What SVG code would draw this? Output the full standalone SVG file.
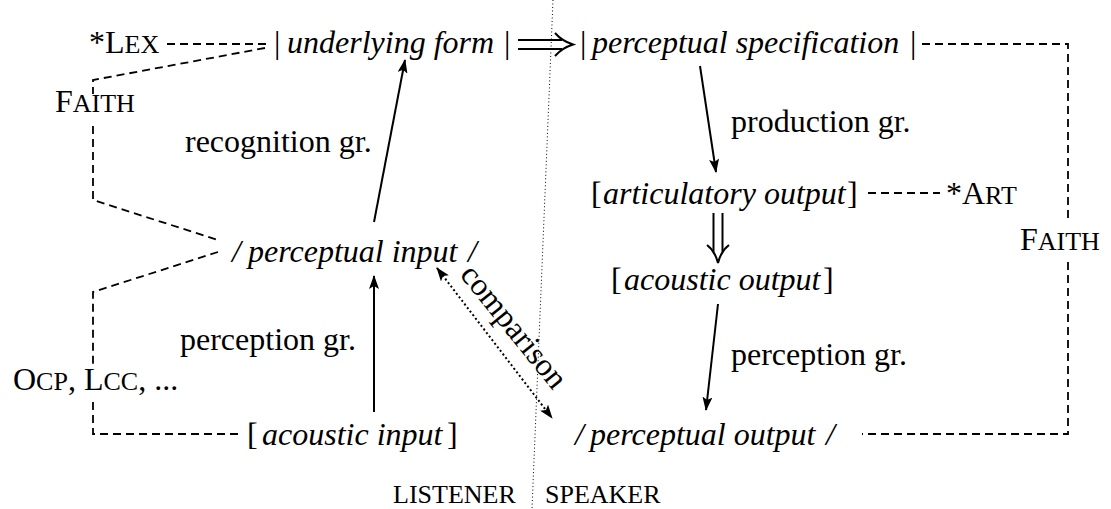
<svg xmlns="http://www.w3.org/2000/svg" width="1111" height="509" viewBox="0 0 1111 509">
  <defs>
    <style>
      text { font-family: "Liberation Serif", "Times New Roman", serif; font-size: 32px; fill: #000; }
      .it { font-style: italic; }
      .sc { font-size: 26px; }
      .dash { fill: none; stroke: #000; stroke-width: 1.8; stroke-dasharray: 8 5; }
      .solid { fill: none; stroke: #000; stroke-width: 2; }
      .dot { fill: none; stroke: #000; stroke-width: 2; stroke-dasharray: 2 2.5; }
      .divider { fill: none; stroke: #000; stroke-width: 1; stroke-dasharray: 1 2.5; }
    </style>
    <marker id="head" viewBox="0 0 14 10" refX="13" refY="5" markerWidth="14" markerHeight="10" markerUnits="userSpaceOnUse" orient="auto-start-reverse">
      <path d="M0,0 L14,5 L0,10 L3,5 z" fill="#000"/>
    </marker>
  </defs>
  <rect width="1111" height="509" fill="#fff"/>

  <!-- listener / speaker divider -->
  <path class="divider" d="M553,0 L532,509"/>

  <!-- connectors -->
  <g id="connectors">
    <!-- constraint links (dashed) -->
    <path class="dash" d="M167,44 H268"/>
    <path class="dash" d="M265,48 L93,80 V94"/>
    <path class="dash" d="M93,126 V200 L218,240"/>
    <path class="dash" d="M218,252 L93,292 V368"/>
    <path class="dash" d="M93,402 V434 H240"/>
    <path class="dash" d="M922,44 H1068 V222"/>
    <path class="dash" d="M1068,262 V434 H862"/>
    <path class="dash" d="M868,193 H940"/>

    <!-- grammar arrows -->
    <path class="solid" d="M374,222 L405,60" marker-end="url(#head)"/>
    <path class="solid" d="M374,412 L374,276" marker-end="url(#head)"/>
    <path class="solid" d="M700,66 L716,172" marker-end="url(#head)"/>
    <path class="solid" d="M718,304 L706,410" marker-end="url(#head)"/>

    <!-- comparison (dotted, two-headed) -->
    <path class="dot" d="M437,268 L552,418" marker-start="url(#head)" marker-end="url(#head)"/>

    <!-- double arrow: underlying form to perceptual specification -->
    <g class="solid">
      <path d="M518,40 H562"/>
      <path d="M518,49 H562"/>
      <path d="M555,33 Q562,41 573,44.5 Q562,48 555,56"/>
    </g>
    <!-- double arrow: articulatory to acoustic output -->
    <g class="solid">
      <path d="M713.5,213 V252"/>
      <path d="M722.5,213 V252"/>
      <path d="M707,245 Q715,251 718,263 Q721,251 729,245"/>
    </g>
  </g>

  <!-- constraint labels -->
  <g id="lex"><text x="89" y="53">*L<tspan class="sc">EX</tspan></text></g>
  <g id="faith-left"><text x="55" y="112">F<tspan class="sc">AITH</tspan></text></g>
  <g id="ocp"><text x="13" y="390">O<tspan class="sc">CP</tspan>, L<tspan class="sc">CC</tspan>, ...</text></g>
  <g id="art"><text x="946" y="204">*A<tspan class="sc">RT</tspan></text></g>
  <g id="faith-right"><text x="1020" y="250">F<tspan class="sc">AITH</tspan></text></g>

  <!-- representations -->
  <g id="underlying-form">
    <text x="274" y="53">|</text>
    <text class="it" x="287" y="53">underlying form</text>
    <text x="504" y="53">|</text>
  </g>
  <g id="perceptual-specification">
    <text x="580" y="53">|</text>
    <text class="it" x="592" y="53">perceptual specification</text>
    <text x="910" y="53">|</text>
  </g>
  <g id="articulatory-output">
    <text x="591" y="204">[</text>
    <text class="it" x="603" y="204">articulatory output</text>
    <text x="847" y="204">]</text>
  </g>
  <g id="acoustic-output">
    <text x="611" y="290">[</text>
    <text class="it" x="624" y="290">acoustic output</text>
    <text x="823" y="290">]</text>
  </g>
  <g id="perceptual-output">
    <text class="it" x="575" y="445">/</text>
    <text class="it" x="590" y="445">perceptual output</text>
    <text class="it" x="826" y="445">/</text>
  </g>
  <g id="perceptual-input">
    <text class="it" x="232" y="262">/</text>
    <text class="it" x="248" y="262">perceptual input</text>
    <text class="it" x="468" y="262">/</text>
  </g>
  <g id="acoustic-input">
    <text x="247" y="445">[</text>
    <text class="it" x="262" y="445">acoustic input</text>
    <text x="447" y="445">]</text>
  </g>

  <!-- grammar labels -->
  <g id="labels">
    <text x="185" y="152">recognition gr.</text>
    <text x="180" y="350">perception gr.</text>
    <text x="731" y="132">production gr.</text>
    <text x="731" y="365">perception gr.</text>
    <text text-anchor="middle" transform="translate(506,333) rotate(51)">comparison</text>
  </g>

  <!-- sides -->
  <g id="sides">
    <text class="sc" x="393" y="503">LISTENER</text>
    <text class="sc" x="545" y="503">SPEAKER</text>
  </g>
</svg>
